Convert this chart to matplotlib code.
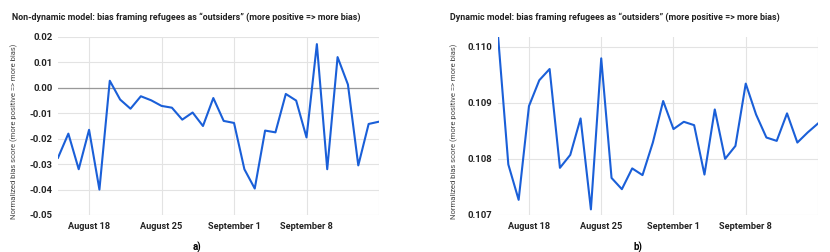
import numpy as np
import pandas as pd
import matplotlib
matplotlib.use('Agg')
import matplotlib.pyplot as plt
import matplotlib.dates as mdates

plt.rcParams['font.family'] = ['Roboto', 'DejaVu Sans']

# daily values, Aug 15 .. Sep 15
dates = pd.date_range('2022-08-15', '2022-09-15', freq='D')

non_dynamic = [-0.0275, -0.018, -0.032, -0.0165, -0.040, 0.0028, -0.0046, -0.0082,
               -0.0033, -0.0049, -0.0071, -0.0078, -0.0125, -0.0097, -0.015, -0.0040,
               -0.013, -0.0138, -0.032, -0.0396, -0.0168, -0.0175, -0.0024, -0.0050,
               -0.0195, 0.0172, -0.032, 0.0121, 0.0013, -0.0305, -0.0142, -0.0133]

dynamic = [0.1102, 0.1079, 0.10727, 0.10894, 0.1094, 0.1096, 0.10784, 0.10807,
           0.10872, 0.1071, 0.10979, 0.10766, 0.10746, 0.10783, 0.10771, 0.10829,
           0.10903, 0.10853, 0.10866, 0.1086, 0.10772, 0.10888, 0.1080, 0.10823,
           0.10934, 0.10879, 0.10838, 0.10832, 0.10881, 0.10829, 0.10847, 0.10863]

week_ticks = pd.to_datetime(['2022-08-18', '2022-08-25', '2022-09-01', '2022-09-08', '2022-09-15'])
week_labels = ['August 18', 'August 25', 'September 1', 'September 8', '']

left_yticks = [-0.05, -0.04, -0.03, -0.02, -0.01, 0.00, 0.01, 0.02]
right_yticks = [0.107, 0.108, 0.109, 0.110]

line_color = '#1a5fd8'
grid_color = '#e3e3e3'

fig = plt.figure(figsize=(8.3, 2.52), dpi=100)
W, H = 830, 252


def make_axes(x0, x1, y0, y1):
    return fig.add_axes([x0 / W, 1 - y1 / H, (x1 - x0) / W, (y1 - y0) / H])


def style(ax, yticks, fmt):
    ax.set_xlim(dates[0], dates[-1])
    ax.set_xticks(week_ticks)
    ax.set_xticklabels(week_labels, fontweight='bold', fontsize=6.6, color='#222222')
    ax.set_yticks(yticks)
    ax.set_yticklabels([fmt.format(v) for v in yticks], fontweight='bold',
                       fontsize=6.8, color='#222222')
    ax.tick_params(length=0, pad=4)
    ax.tick_params(axis='x', pad=5)
    ax.grid(True, color=grid_color, linewidth=0.8)
    ax.set_axisbelow(True)
    for s in ax.spines.values():
        s.set_visible(False)
    ax.set_ylabel('Normalized bias score (more positive => more bias)',
                  fontsize=5.5, color='#444444')


ax1 = make_axes(58, 379, 37, 215)
ax1.plot(dates, non_dynamic, color=line_color, linewidth=1.5, zorder=3)
ax1.axhline(0, color='#999999', linewidth=0.9, zorder=2)
ax1.set_ylim(-0.05, 0.02)
style(ax1, left_yticks, '{:.2f}')
ax1.yaxis.set_label_coords(-0.125, 0.47)
fig.text(12 / W, 1 - 17 / H,
         'Non-dynamic model: bias framing refugees as \u201coutsiders\u201d (more positive => more bias)',
         fontsize=6.4, fontweight='bold', va='center', ha='left', color='#222222')
fig.text(197 / W, 1 - 247 / H, 'a)', fontsize=7, fontweight='bold', ha='center', va='center')

ax2 = make_axes(498, 818, 37, 215)
ax2.plot(dates, dynamic, color=line_color, linewidth=1.5, zorder=3)
ax2.set_ylim(0.107, 0.11017)
style(ax2, right_yticks, '{:.3f}')
ax2.yaxis.set_label_coords(-0.125, 0.47)
fig.text(450 / W, 1 - 17 / H,
         'Dynamic model: bias framing refugees as \u201coutsiders\u201d (more positive => more bias)',
         fontsize=6.4, fontweight='bold', va='center', ha='left', color='#222222')
fig.text(638 / W, 1 - 247 / H, 'b)', fontsize=7, fontweight='bold', ha='center', va='center')

fig.savefig('out.png', dpi=100)
